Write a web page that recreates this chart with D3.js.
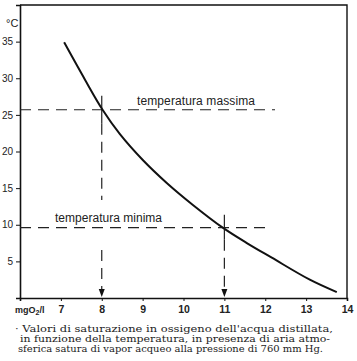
<!DOCTYPE html>
<html><head><meta charset="utf-8">
<script src="https://cdn.jsdelivr.net/npm/d3@7"></script>
<style>html,body{margin:0;padding:0;background:#fff;}svg{display:block;}</style>
</head><body>
<script>
// Data
const oxygen = [7.08, 7.59, 8.02, 8.44, 9.01, 9.59, 10.23, 10.96, 11.55, 12.16, 13.09, 13.75];
const temperature = [34.9, 29.8, 25.7, 22.4, 18.8, 15.7, 12.7, 9.6, 7.5, 5.5, 2.5, 0.8];
const xTicks = [7, 8, 9, 10, 11, 12, 13, 14];
const yTicks = [5, 10, 15, 20, 25, 30, 35];
const tempMax = 25.7, oxyAtMax = 8;
const tempMin = 9.6, oxyAtMin = 11;
const labelMax = "temperatura massima";
const labelMin = "temperatura minima";
const captionLines = [
  "\u00b7 Valori di saturazione in ossigeno dell'acqua distillata,",
  "in funzione della temperatura, in presenza di aria atmo-",
  "sferica satura di vapor acqueo alla pressione di 760 mm Hg."
];

const W = 357, H = 361;
const svg = d3.select("body").append("svg").attr("width", W).attr("height", H);
const x = d3.scaleLinear().domain([6, 14]).range([20, 347]);
const y = d3.scaleLinear().domain([0, 40]).range([298, 5]);
const sans = "Liberation Sans, Arial, sans-serif";

// frame
svg.append("path")
  .attr("d", `M${x(6)},${y(40)}H${x(14)}V${y(0)}`)
  .attr("fill", "none").attr("stroke", "#111").attr("stroke-width", 1.4);

// axes
const xAxis = svg.append("g").attr("transform", `translate(0,${y(0)})`)
  .call(d3.axisBottom(x).tickValues(xTicks).tickSize(3).tickPadding(5).tickFormat(d3.format("d")));
xAxis.select(".domain").attr("stroke-width", 1.6).attr("stroke", "#111");
xAxis.selectAll("text").attr("font-family", sans).attr("font-size", 10.5).attr("font-weight", "bold").attr("fill", "#222");
xAxis.selectAll("line").attr("stroke", "#111");

const yAxis = svg.append("g").attr("transform", `translate(${x(6)},0)`)
  .call(d3.axisLeft(y).tickValues(yTicks).tickSize(4).tickPadding(3));
yAxis.select(".domain").attr("stroke-width", 1.6).attr("stroke", "#111");
yAxis.selectAll("text").attr("font-family", sans).attr("font-size", 10).attr("fill", "#222");
yAxis.selectAll("line").attr("stroke", "#111");

// unit labels
svg.append("text").attr("x", 6).attr("y", 27).attr("font-family", sans).attr("font-size", 11)
  .attr("fill", "#222").text("\u00b0C");
const ul = svg.append("text").attr("x", 15).attr("y", 313).attr("font-family", sans)
  .attr("font-size", 9).attr("font-weight", "bold").attr("fill", "#222");
ul.append("tspan").text("mgO");
ul.append("tspan").attr("font-size", 7).attr("dy", 2).text("2");
ul.append("tspan").attr("dy", -2).text("/l");

// dashed reference lines
const dash = "11,7";
svg.append("line").attr("x1", x(6)).attr("x2", 275).attr("y1", y(tempMax)).attr("y2", y(tempMax))
  .attr("stroke", "#222").attr("stroke-width", 1.2).attr("stroke-dasharray", dash);
svg.append("line").attr("x1", x(6)).attr("x2", 271).attr("y1", y(tempMin)).attr("y2", y(tempMin))
  .attr("stroke", "#222").attr("stroke-width", 1.2).attr("stroke-dasharray", dash);

// vertical lines
function vline(xv, y1, y2, dashed) {
  svg.append("line").attr("x1", x(xv)).attr("x2", x(xv)).attr("y1", y1).attr("y2", y2)
    .attr("stroke", "#222").attr("stroke-width", 1.2).attr("stroke-dasharray", dashed ? dash : null);
}
vline(oxyAtMax, y(tempMax) - 14, y(tempMax) + 14, false);
vline(oxyAtMax, y(tempMax) + 14, 200, true);
vline(oxyAtMax, 250, y(0) - 6, true);
vline(oxyAtMin, y(tempMin) - 13, y(tempMin) + 12, false);
vline(oxyAtMin, y(tempMin) + 12, y(0) - 6, true);
function arrow(xv) {
  const xp = x(xv), yp = y(0) - 1;
  svg.append("path").attr("d", `M${xp - 3},${yp - 8}L${xp + 3},${yp - 8}L${xp},${yp}Z`).attr("fill", "#111");
}
arrow(oxyAtMax); arrow(oxyAtMin);

// curve
const pts = oxygen.map((o, i) => [o, temperature[i]]);
svg.append("path").datum(pts)
  .attr("d", d3.line().x(d => x(d[0])).y(d => y(d[1])).curve(d3.curveCatmullRom))
  .attr("fill", "none").attr("stroke", "#111").attr("stroke-width", 2);

// labels
svg.append("text").attr("x", 137).attr("y", 105).attr("font-family", sans).attr("font-size", 12)
  .attr("textLength", 118).attr("fill", "#222").text(labelMax);
svg.append("text").attr("x", 55).attr("y", 222).attr("font-family", sans).attr("font-size", 12)
  .attr("textLength", 107).attr("fill", "#222").text(labelMin);

// caption
const capX = [15, 20, 18], capW = [318, 310, 305], capY = [332, 342, 352];
captionLines.forEach((t, i) => {
  svg.append("text").attr("x", capX[i]).attr("y", capY[i])
    .attr("font-family", "DejaVu Serif, Liberation Serif, serif").attr("font-size", 10)
    .attr("textLength", capW[i]).attr("lengthAdjust", "spacingAndGlyphs")
    .attr("fill", "#222").text(t);
});
</script>
</body></html>
